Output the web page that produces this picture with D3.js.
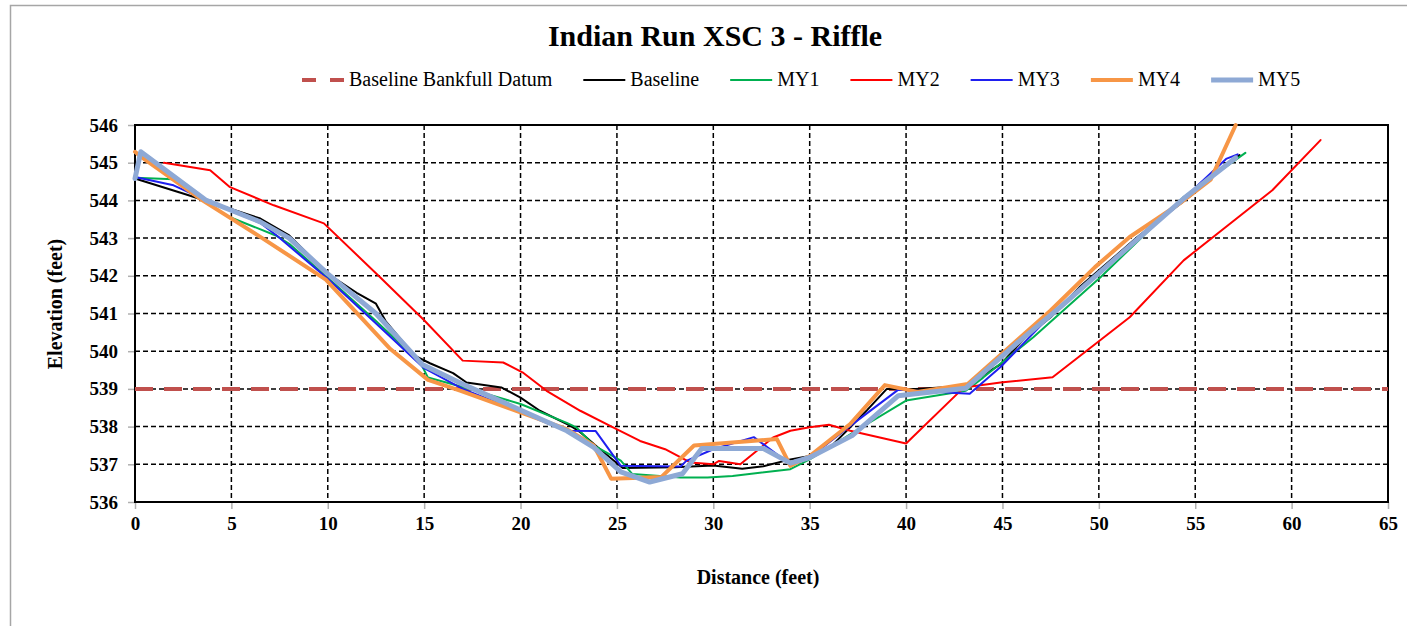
<!DOCTYPE html>
<html>
<head>
<meta charset="utf-8">
<script src="https://cdn.jsdelivr.net/npm/d3@7"></script>
<style>
  html, body { margin: 0; padding: 0; background: #ffffff; }
  svg { display: block; }
  text { font-family: "Liberation Serif", "Times New Roman", serif; fill: #000; }
</style>
</head>
<body>
<svg id="chart" width="1407" height="626"></svg>
<script>
// Cross-section survey: distance (ft) vs elevation (ft)
const bankfullElevation = 539.0;

const baseline = [
  [0, 544.58], [2.7, 544.15], [6.5, 543.52], [8.0, 543.07], [10.0, 542.05], [11.5, 541.55],
  [12.5, 541.26], [13.0, 540.8], [14.5, 539.88], [15.3, 539.68], [16.5, 539.42], [17.2, 539.17],
  [19.0, 539.04], [20.0, 538.77], [21.0, 538.42], [22.6, 538.02], [23.1, 537.85], [24.0, 537.45],
  [25.3, 536.9], [28.0, 536.92], [30.0, 536.97], [31.5, 536.88], [32.6, 536.95], [34.0, 537.13],
  [35.0, 537.22], [36.0, 537.42], [37.1, 537.98], [38.0, 538.45], [39.0, 539.0], [40.5, 539.0],
  [43.1, 539.08], [44.9, 539.65], [46.2, 540.37], [47.5, 540.9], [49.0, 541.7], [50.2, 542.23],
  [52.0, 543.03], [54.9, 544.18], [56.1, 544.72], [57.3, 545.2]
];

const my1 = [
  [0, 544.6], [2.0, 544.56], [3.5, 544.0], [4.9, 543.56], [7.3, 543.07], [8.0, 542.85],
  [10.0, 541.95], [12.5, 540.8], [14.8, 539.7], [15.2, 539.3], [17.0, 539.05], [20.0, 538.6],
  [22.4, 538.1], [22.9, 537.98], [23.8, 537.5], [25.2, 537.1], [25.8, 536.74], [28.3, 536.65],
  [29.7, 536.65], [31.0, 536.69], [34.0, 536.87], [35.0, 537.13], [37.4, 537.89], [40.0, 538.69],
  [43.1, 538.95], [44.0, 539.3], [46.6, 540.37], [50.1, 541.97], [54.4, 544.09], [57.6, 545.26]
];

const my2 = [
  [1.5, 545.0], [3.9, 544.8], [4.9, 544.36], [7.2, 543.87], [9.8, 543.39], [12.7, 541.97],
  [15.0, 540.82], [17.0, 539.75], [19.1, 539.7], [20.1, 539.44], [21.35, 538.95], [23.1, 538.42],
  [24.8, 537.98], [26.2, 537.62], [27.5, 537.4], [28.8, 537.05], [30.0, 537.0], [30.3, 537.09],
  [31.4, 537.0], [33.1, 537.71], [34.0, 537.89], [35.0, 537.98], [36.0, 538.05], [37.1, 537.89],
  [40.0, 537.55], [43.0, 539.04], [44.9, 539.17], [47.6, 539.31], [51.6, 540.9], [54.4, 542.41],
  [59.0, 544.27], [61.5, 545.6]
];

const my3 = [
  [0, 544.62], [2.0, 544.4], [3.7, 544.0], [6.5, 543.4], [7.4, 543.05], [10.0, 541.92],
  [12.7, 540.64], [15.0, 539.55], [17.0, 539.0], [22.4, 537.89], [23.9, 537.88], [25.2, 536.96],
  [28.3, 536.94], [28.6, 537.09], [30.0, 537.4], [32.1, 537.72], [34.0, 537.0], [35.0, 537.18],
  [37.0, 537.98], [39.6, 538.98], [40.5, 538.95], [43.3, 538.87], [44.9, 539.58], [47.5, 540.95],
  [50.0, 542.05], [54.4, 544.05], [56.6, 545.1], [57.2, 545.22]
];

const my4 = [
  [0, 545.29], [0.3, 545.16], [3.5, 544.0], [6.6, 543.0], [9.9, 541.9], [13.2, 540.08],
  [15.2, 539.24], [16.9, 538.95], [22.4, 537.93], [23.8, 537.5], [24.7, 536.62], [27.3, 536.66],
  [29.0, 537.5], [33.3, 537.67], [34.0, 536.96], [35.0, 537.22], [37.1, 538.07], [38.9, 539.1],
  [40.6, 538.92], [43.2, 539.13], [47.5, 541.08], [49.8, 542.23], [51.6, 543.03], [54.2, 543.92],
  [55.8, 544.55], [57.1, 546.0]
];

const my5 = [
  [0, 544.58], [0.3, 545.29], [3.7, 544.0], [6.5, 543.43], [8.0, 543.0], [10.0, 542.05],
  [12.5, 541.0], [14.9, 539.65], [17.2, 539.08], [22.4, 537.89], [23.8, 537.45], [25.2, 536.8],
  [26.7, 536.53], [28.4, 536.75], [29.4, 537.42], [32.6, 537.42], [34.0, 537.03], [35.0, 537.18],
  [37.2, 537.76], [39.6, 538.82], [40.5, 538.87], [43.1, 539.02], [45.7, 540.19], [48.0, 541.17],
  [54.4, 544.05], [57.1, 545.13]
];

const xTicks = d3.range(0, 66, 5);
const yTicks = d3.range(536, 547, 1);

const series = [
  { name: "Baseline", data: baseline, color: "#000000", width: 2 },
  { name: "MY1", data: my1, color: "#00B050", width: 2 },
  { name: "MY2", data: my2, color: "#FF0000", width: 2 },
  { name: "MY3", data: my3, color: "#1F1FF0", width: 2 },
  { name: "MY4", data: my4, color: "#F79646", width: 4 },
  { name: "MY5", data: my5, color: "#8EA9D5", width: 5 }
];
const datumColor = "#C0504D";

const svg = d3.select("#chart");
const W = 1407, H = 626;
const plot = { left: 135, right: 1388, top: 125, bottom: 502 };

const x = d3.scaleLinear().domain([0, 65]).range([plot.left, plot.right]);
const y = d3.scaleLinear().domain([536, 546]).range([plot.bottom, plot.top]);

// outer chart frame
svg.append("rect").attr("x", 10.5).attr("y", 5.5).attr("width", W + 10).attr("height", H - 3)
  .attr("fill", "#fff").attr("stroke", "#a6a6a6").attr("stroke-width", 1.5);

// title
svg.append("text").attr("x", 715).attr("y", 46).attr("text-anchor", "middle")
  .style("font-size", "30px").style("font-weight", "bold").text("Indian Run XSC 3 - Riffle");

// gridlines
const grid = svg.append("g");
grid.selectAll("line.h").data(yTicks.slice(1, -1)).join("line")
  .attr("x1", plot.left).attr("x2", plot.right)
  .attr("y1", d => y(d)).attr("y2", d => y(d))
  .attr("stroke", "#000").attr("stroke-width", 1.5).attr("stroke-dasharray", "5,3");
grid.selectAll("line.v").data(xTicks.slice(1, -1)).join("line")
  .attr("y1", plot.top).attr("y2", plot.bottom)
  .attr("x1", d => x(d)).attr("x2", d => x(d))
  .attr("stroke", "#000").attr("stroke-width", 1.5).attr("stroke-dasharray", "5,3");

// axes
const yAxis = svg.append("g").attr("transform", `translate(${plot.left},0)`)
  .call(d3.axisLeft(y).tickValues(yTicks).tickFormat(d3.format("d")).tickSize(7).tickPadding(10));
const xAxis = svg.append("g").attr("transform", `translate(0,${plot.bottom})`)
  .call(d3.axisBottom(x).tickValues(xTicks).tickFormat(d3.format("d")).tickSize(7).tickPadding(8));
[yAxis, xAxis].forEach(a => {
  a.select(".domain").remove();
  a.selectAll(".tick line").attr("stroke", "#b0b0b0").attr("stroke-width", 1.5);
  a.selectAll(".tick text").style("font-family", '"Liberation Serif", serif')
    .style("font-size", "19px").style("font-weight", "bold").attr("fill", "#000");
});

// plot border
svg.append("rect").attr("x", plot.left).attr("y", plot.top)
  .attr("width", plot.right - plot.left).attr("height", plot.bottom - plot.top)
  .attr("fill", "none").attr("stroke", "#000").attr("stroke-width", 2);

// bankfull datum
svg.append("line").attr("x1", x(0)).attr("x2", x(65))
  .attr("y1", y(bankfullElevation)).attr("y2", y(bankfullElevation))
  .attr("stroke", datumColor).attr("stroke-width", 4).attr("stroke-dasharray", "18,11");

// survey lines
const line = d3.line().x(d => x(d[0])).y(d => y(d[1]));
svg.append("g").selectAll("path").data(series).join("path")
  .attr("d", d => line(d.data))
  .attr("fill", "none").attr("stroke", d => d.color).attr("stroke-width", d => d.width)
  .attr("stroke-linejoin", "round").attr("stroke-linecap", "round");

// axis titles
svg.append("text").attr("transform", "translate(62,304) rotate(-90)").attr("text-anchor", "middle")
  .style("font-size", "20px").style("font-weight", "bold").text("Elevation (feet)");
svg.append("text").attr("x", 758).attr("y", 584).attr("text-anchor", "middle")
  .style("font-size", "20px").style("font-weight", "bold").text("Distance (feet)");

// legend
const legendItems = [{ name: "Baseline Bankfull Datum", color: datumColor, width: 4, dash: "14,14" }]
  .concat(series.map(s => ({ name: s.name, color: s.color, width: s.width, dash: null })));
const legend = svg.append("g");
let lx = 302;
const ly = 80;
legendItems.forEach(item => {
  legend.append("line").attr("x1", lx).attr("x2", lx + 42).attr("y1", ly).attr("y2", ly)
    .attr("stroke", item.color).attr("stroke-width", item.width)
    .attr("stroke-dasharray", item.dash);
  const t = legend.append("text").attr("x", lx + 47).attr("y", ly + 6)
    .style("font-size", "20px").text(item.name);
  lx += 47 + t.node().getComputedTextLength() + 31;
});
</script>
</body>
</html>
